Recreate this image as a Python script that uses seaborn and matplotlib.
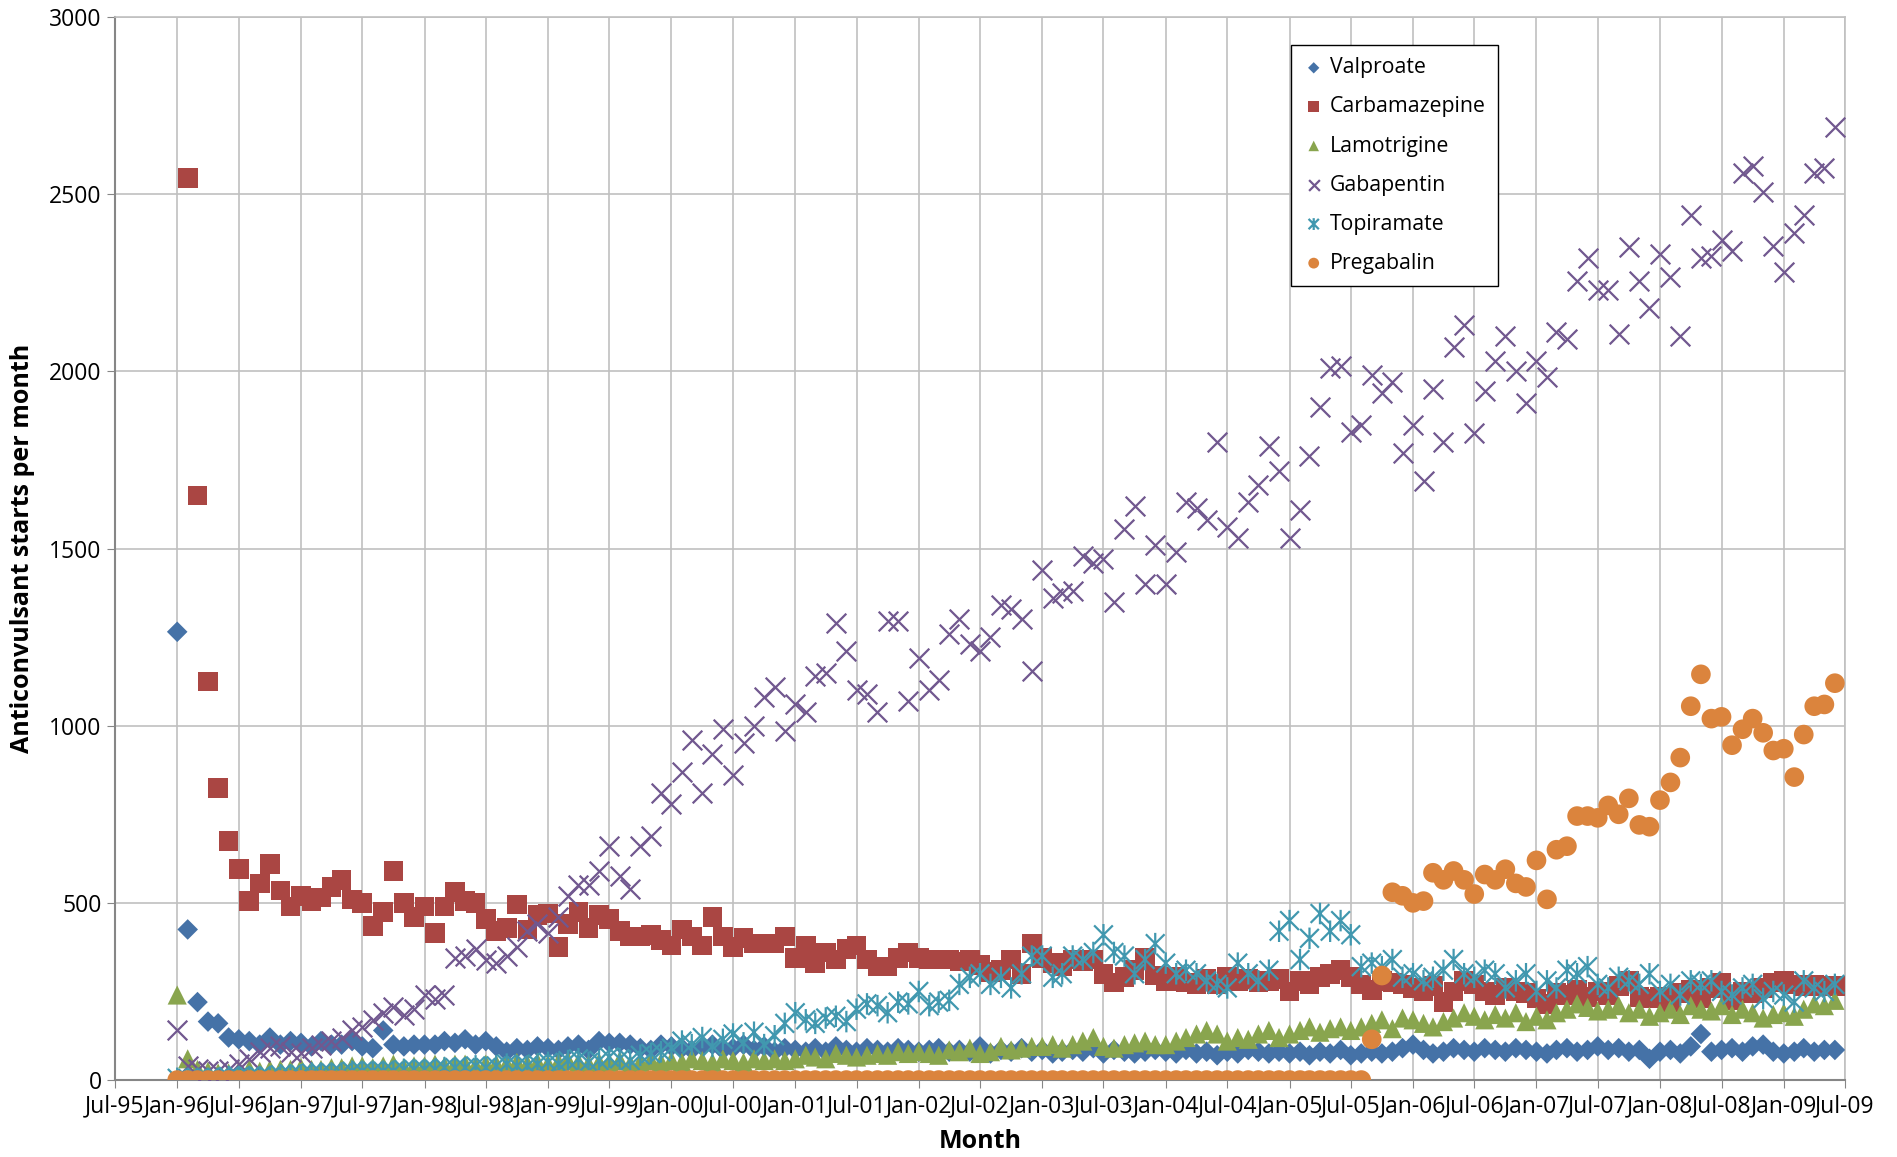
import numpy as np
import pandas as pd
import matplotlib
matplotlib.use('Agg')
import matplotlib.pyplot as plt
from matplotlib.path import Path
import seaborn as sns

# monthly starts, Jan-96 .. Jun-09 (162 months)
months = pd.date_range('1996-01-01', periods=162, freq='MS')

valproate = [1265, 425, 220, 165, 160, 120, 115, 110, 100, 120, 100, 110,
             105, 95, 110, 100, 100, 110, 95, 90, 140, 100, 95, 100,
             100, 100, 110, 105, 115, 100, 110, 95, 80, 90, 85, 95,
             90, 85, 95, 100, 85, 110, 105, 105, 100, 90, 85, 100,
             95, 90, 85, 95, 100, 85, 90, 100, 85, 95, 80, 90,
             85, 80, 90, 80, 95, 85, 80, 90, 85, 80, 90, 85,
             80, 85, 90, 80, 85, 80, 95, 75, 85, 80, 90, 80,
             85, 75, 80, 85, 80, 90, 75, 85, 80, 75, 80, 85,
             80, 75, 85, 75, 80, 70, 80, 75, 85, 80, 75, 80,
             75, 80, 70, 80, 75, 85, 70, 75, 80, 75, 80, 90,
             100, 85, 75, 80, 90, 85, 80, 90, 85, 80, 90, 85,
             80, 75, 85, 90, 80, 85, 95, 85, 90, 80, 85, 60,
             80, 85, 75, 95, 130, 80, 85, 90, 80, 95, 100, 80,
             75, 80, 90, 80, 85, 85]

carbamazepine = [np.nan, 2545, 1650, 1125, 825, 675, 595, 505, 555, 610, 535, 490,
                 520, 505, 515, 545, 565, 510, 500, 435, 475, 590, 500, 460,
                 490, 415, 490, 530, 505, 500, 455, 420, 430, 495, 425, 465,
                 470, 375, 440, 475, 430, 465, 455, 420, 405, 405, 410, 395,
                 380, 425, 405, 380, 460, 405, 375, 400, 385, 385, 385, 405,
                 345, 380, 330, 360, 340, 370, 380, 340, 320, 320, 345, 360,
                 345, 340, 340, 340, 335, 340, 325, 305, 310, 340, 300, 385,
                 345, 330, 320, 340, 335, 340, 300, 275, 290, 310, 345, 295,
                 280, 290, 275, 270, 285, 270, 290, 280, 285, 275, 280, 285,
                 250, 280, 270, 290, 300, 310, 290, 270, 255, 280, 275, 270,
                 260, 250, 265, 220, 250, 280, 270, 250, 240, 260, 250, 245,
                 230, 215, 245, 240, 255, 235, 250, 240, 265, 280, 235, 230,
                 235, 220, 245, 255, 230, 260, 275, 225, 250, 245, 260, 275,
                 280, 270, 265, 270, 265, 265]

lamotrigine = [240, 60, 30, 25, 20, 20, 25, 30, 25, 30, 30, 30,
               35, 30, 30, 35, 35, 40, 40, 35, 40, 45, 35, 40,
               40, 45, 40, 45, 45, 40, 45, 45, 45, 50, 45, 50,
               45, 50, 55, 50, 45, 50, 50, 55, 45, 50, 55, 50,
               55, 50, 60, 55, 50, 60, 55, 50, 60, 55, 60, 55,
               60, 70, 65, 60, 75, 70, 65, 70, 75, 70, 80, 75,
               80, 75, 70, 85, 80, 90, 75, 80, 95, 85, 90, 95,
               95, 100, 90, 100, 110, 120, 95, 90, 100, 105, 110, 100,
               100, 110, 120, 130, 140, 130, 110, 120, 115, 130, 140, 120,
               130, 140, 150, 135, 145, 150, 140, 150, 160, 170, 145, 175,
               170, 160, 150, 165, 175, 190, 180, 170, 185, 175, 190, 165,
               180, 170, 190, 200, 215, 205, 195, 200, 210, 190, 200, 180,
               190, 200, 185, 210, 200, 195, 210, 185, 200, 190, 175, 185,
               190, 180, 200, 215, 210, 225]

gabapentin = [140, 40, 30, 25, 25, 30, 45, 60, 80, 90, 95, 80,
              75, 90, 100, 110, 120, 140, 150, 170, 190, 205, 185, 200,
              240, 230, 240, 345, 350, 370, 340, 330, 350, 375, 420, 440,
              415, 460, 520, 550, 550, 590, 660, 575, 540, 660, 690, 810,
              780, 870, 960, 810, 920, 990, 860, 950, 1000, 1080, 1110, 985,
              1060, 1040, 1140, 1150, 1290, 1210, 1100, 1090, 1040, 1295, 1295, 1070,
              1190, 1100, 1130, 1260, 1300, 1230, 1210, 1250, 1340, 1330, 1300, 1155,
              1440, 1360, 1375, 1380, 1480, 1460, 1470, 1350, 1555, 1620, 1400, 1510,
              1400, 1490, 1630, 1615, 1580, 1800, 1560, 1530, 1630, 1680, 1790, 1720,
              1530, 1610, 1760, 1900, 2010, 2015, 1830, 1850, 1990, 1940, 1970, 1770,
              1850, 1690, 1950, 1800, 2070, 2130, 1825, 1945, 2030, 2100, 2000, 1910,
              2030, 1985, 2110, 2090, 2255, 2320, 2230, 2230, 2105, 2350, 2255, 2180,
              2330, 2265, 2100, 2440, 2320, 2325, 2370, 2340, 2560, 2580, 2505, 2355,
              2280, 2390, 2440, 2560, 2575, 2690]

topiramate = [5, 5, 5, 5, 5, 10, 10, 10, 10, 10, 15, 15,
              15, 20, 20, 20, 20, 25, 25, 25, 25, 25, 30, 30,
              30, 30, 35, 35, 35, 40, 35, 40, 45, 40, 40, 45,
              50, 45, 55, 60, 50, 55, 65, 60, 55, 70, 75, 80,
              90, 110, 100, 120, 95, 115, 130, 105, 135, 100, 125, 160,
              190, 170, 160, 175, 180, 165, 200, 215, 210, 190, 220, 215,
              250, 210, 220, 225, 270, 290, 300, 270, 290, 260, 300, 350,
              350, 290, 300, 350, 340, 360, 410, 360, 350, 300, 340, 385,
              330, 300, 310, 300, 280, 270, 260, 330, 300, 280, 310, 420,
              450, 340, 400, 470, 420, 450, 410, 320, 330, 320, 340, 290,
              300, 280, 290, 310, 340, 300, 290, 310, 300, 260, 280, 300,
              250, 280, 260, 310, 300, 320, 270, 260, 290, 280, 270, 300,
              250, 270, 240, 280, 270, 280, 250, 240, 260, 270, 230, 250,
              240, 220, 280, 260, 250, 270]

pregabalin = [0] * 116 + [115, 295, 530, 520, 500, 505, 585, 565, 590, 565, 525, 580,
                          565, 595, 555, 545, 620, 510, 650, 660, 745, 745, 740, 775,
                          750, 795, 720, 715, 790, 840, 910, 1055, 1145, 1020, 1025, 945,
                          990, 1020, 980, 930, 935, 855, 975, 1055, 1060, 1120]

df = pd.DataFrame({'Month': months, 'Valproate': valproate, 'Carbamazepine': carbamazepine,
                   'Lamotrigine': lamotrigine, 'Gabapentin': gabapentin,
                   'Topiramate': topiramate, 'Pregabalin': pregabalin})

sns.set_style('white')
plt.rcParams['font.family'] = 'sans-serif'
plt.rcParams['font.sans-serif'] = ['Open Sans', 'DejaVu Sans']
plt.rcParams['text.color'] = 'black'
plt.rcParams['axes.labelcolor'] = 'black'
plt.rcParams['xtick.color'] = 'black'
plt.rcParams['ytick.color'] = 'black'

# excel style "star" marker: x with a vertical bar
star = Path([(-1, -1), (1, 1), (-1, 1), (1, -1), (0, -1.15), (0, 1.15)],
            [Path.MOVETO, Path.LINETO, Path.MOVETO, Path.LINETO, Path.MOVETO, Path.LINETO])

# name, marker, colour, size, kind
series = [
    ('Valproate', 'D', '#4572A7', 110, 'fill'),
    ('Carbamazepine', 's', '#AA4643', 200, 'fill'),
    ('Lamotrigine', '^', '#89A54E', 190, 'fill'),
    ('Gabapentin', 'x', '#71588F', 200, 'line'),
    ('Topiramate', star, '#4198AF', 240, 'path'),
    ('Pregabalin', 'o', '#DB843D', 200, 'fill'),
]

fig = plt.figure(figsize=(18.97, 11.57), dpi=100)
ax = fig.add_axes([0.0606, 0.0665, 0.912, 0.9188])

for name, mk, col, sz, kind in series:
    if kind == 'fill':
        sns.scatterplot(data=df, x='Month', y=name, marker=mk, color=col, s=sz,
                        edgecolor='none', linewidth=0, ax=ax, label=name, zorder=3)
    elif kind == 'line':
        sns.scatterplot(data=df, x='Month', y=name, marker=mk, color=col, s=sz,
                        linewidth=1.6, ax=ax, label=name, zorder=3)
    else:
        sns.scatterplot(data=df, x='Month', y=name, marker=mk, s=sz,
                        edgecolor=col, facecolor='none', linewidth=1.6,
                        ax=ax, label=name, zorder=3)

ticks = pd.date_range('1995-07-01', '2009-07-01', freq='6MS')
ax.set_xlim(ticks[0], ticks[-1])
ax.set_xticks(ticks)
ax.set_xticklabels([t.strftime('%b-%y') for t in ticks], fontsize=16.5)
ax.set_ylim(0, 3000)
ax.set_yticks(range(0, 3001, 500))
ax.tick_params(axis='y', labelsize=16.5, length=6, color='#868686', direction='out', left=True)
ax.tick_params(axis='x', length=6, color='#868686', direction='out', bottom=True, pad=4)

ax.grid(True, color='#c0c0c0', linewidth=1.2, zorder=0)
ax.set_axisbelow(True)
for sp in ['top', 'right']:
    ax.spines[sp].set_color('#c0c0c0')
    ax.spines[sp].set_linewidth(1.2)
for sp in ['left', 'bottom']:
    ax.spines[sp].set_color('#868686')
    ax.spines[sp].set_linewidth(1.5)

ax.set_xlabel('Month', fontsize=18, fontweight='bold', labelpad=8)
ax.set_ylabel('Anticonvulsant starts per month', fontsize=18, fontweight='bold', labelpad=10)

leg = ax.legend(loc='upper left', bbox_to_anchor=(0.68, 0.974), borderaxespad=0,
                fontsize=15.3, markerscale=0.55, handlelength=0.9, handletextpad=0.3,
                labelspacing=0.85, borderpad=0.6, fancybox=False, framealpha=1)
leg.get_frame().set_edgecolor('black')
leg.get_frame().set_linewidth(1.0)

plt.savefig('out.png', dpi=100)
